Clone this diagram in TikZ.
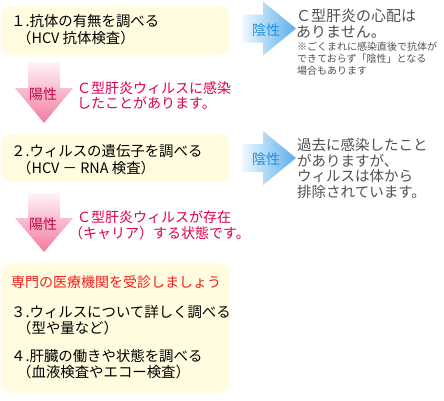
\documentclass[tikz,border=0pt]{standalone}
\usepackage{fontspec}
\setmainfont{Noto Sans CJK JP}
\definecolor{boxfill}{HTML}{FFFCDF}
\definecolor{posred}{HTML}{DC0050}
\definecolor{hdrred}{HTML}{F01E1E}
\definecolor{poslbl}{HTML}{C8004E}
\definecolor{neglbl}{HTML}{1E8FE6}
\definecolor{graytxt}{HTML}{505050}
\definecolor{pinkT}{HTML}{FFF4F7}
\definecolor{pinkB}{HTML}{F27A9D}
\definecolor{blueL}{HTML}{F0F8FE}
\definecolor{blueR}{HTML}{5AAEEA}
\begin{document}
\begin{tikzpicture}[x=1pt,y=-1pt,
  box/.style={fill=boxfill, draw=none, rounded corners=10pt, anchor=north west, inner sep=0pt},
  txt/.style={anchor=base west, align=left, inner sep=0pt},
  lbl/.style={inner sep=0pt, font=\fontsize{14}{16}\selectfont},
  pinkarrow/.style={top color=pinkT, bottom color=pinkB, draw=none},
  bluearrow/.style={left color=blueL, right color=blueR, draw=none}]
\useasboundingbox (0,0) rectangle (444,400);

% boxes
\node[box, minimum width=228pt, minimum height=50pt] (box1) at (1,5) {};
\node[box, minimum width=228pt, minimum height=49pt] (box2) at (1,133) {};
\node[box, minimum width=228pt, minimum height=130pt] (box3) at (1,263) {};

% box texts (base anchor = baseline of last line)
\node[txt, font=\fontsize{14.4}{17}\selectfont] (t1) at (11,43.5)
  {１.抗体の有無を調べる\\\hspace*{6pt}（HCV 抗体検査）};
\node[txt, font=\fontsize{14.4}{17}\selectfont] (t2) at (11,173)
  {２.ウィルスの遺伝子を調べる\\\hspace*{6pt}（HCV － RNA 検査）};
\node[txt, font=\fontsize{14}{16}\selectfont, text=hdrred] (t3h) at (11,287.3)
  {専門の医療機関を受診しましょう};
\node[txt, font=\fontsize{14.4}{16}\selectfont] (t3) at (11,333.3)
  {３.ウィルスについて詳しく調べる\\\hspace*{6pt}（型や量など）};
\node[txt, font=\fontsize{14.4}{16}\selectfont] (t4) at (11,377.3)
  {４.肝臓の働きや状態を調べる\\\hspace*{6pt}（血液検査やエコー検査）};

% blue arrows (negative)
\shade[bluearrow] (242,14.5) -- (263,14.5) -- (263,1.5) -- (296,28.5) -- (263,55.5) -- (263,42.5) -- (242,42.5) -- cycle;
\node[lbl, text=neglbl] (neg1) at (266,30) {陰性};
\shade[bluearrow] (242,144) -- (263,144) -- (263,131) -- (296,158) -- (263,185) -- (263,172) -- (242,172) -- cycle;
\node[lbl, text=neglbl] (neg2) at (266,159) {陰性};

% pink arrows (positive)
\shade[pinkarrow] (28,62) -- (60,62) -- (60,88) -- (73,88) -- (44,123) -- (15,88) -- (28,88) -- cycle;
\node[lbl, text=poslbl] (pos1) at (43,94) {陽性};
\shade[pinkarrow] (28,193) -- (60,193) -- (60,218) -- (73,218) -- (44,252) -- (15,218) -- (28,218) -- cycle;
\node[lbl, text=poslbl] (pos2) at (43,224) {陽性};

% right texts
\node[txt, font=\fontsize{15}{16}\selectfont, text=graytxt] (r1) at (296,37.2)
  {Ｃ型肝炎の心配は\\ありません。};
\node[txt, font=\fontsize{10}{11.7}\selectfont, text=graytxt] (r1n) at (297,74.2)
  {※ごくまれに感染直後で抗体が\\できておらず「陰性」となる\\場合もあります};
\node[txt, font=\fontsize{14.5}{15.5}\selectfont, text=graytxt] (r2) at (297,197)
  {過去に感染したこと\\がありますが、\\ウィルスは体から\\排除されています。};

% red texts
\node[txt, font=\fontsize{14}{15}\selectfont, text=posred] (p1) at (77,108.8)
  {Ｃ型肝炎ウィルスに感染\\したことがあります。};
\node[txt, font=\fontsize{14}{16}\selectfont, text=posred] (p2) at (77,238.3)
  {Ｃ型肝炎ウィルスが存在\\\hspace*{-8pt}（キャリア）する状態です。};
\end{tikzpicture}
\end{document}
